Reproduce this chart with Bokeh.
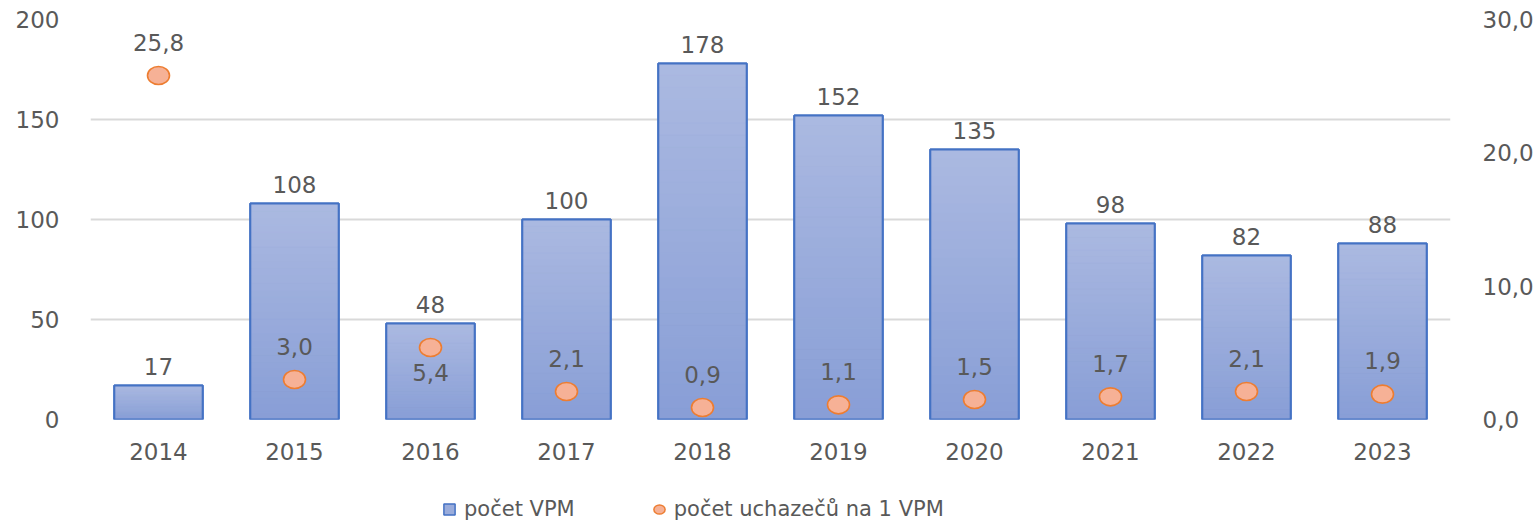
from bokeh.plotting import figure
from bokeh.layouts import column
from bokeh.models import (ColumnDataSource, Range1d, LinearAxis, FixedTicker,
                          CustomJSTickFormatter, LabelSet, Legend, LegendItem)
from bokeh.core.properties import value
from bokeh.embed import file_html
from bokeh.resources import INLINE

# ---- data ----
years = ["2014", "2015", "2016", "2017", "2018", "2019", "2020", "2021", "2022", "2023"]
vpm = [17, 108, 48, 100, 178, 152, 135, 98, 82, 88]
ratio = [25.8, 3.0, 5.4, 2.1, 0.9, 1.1, 1.5, 1.7, 2.1, 1.9]
left_ticks = [0, 50, 100, 150, 200]
right_ticks = [0, 10, 20, 30]
ratio_label_below = ["2016"]

FONT = "DejaVu Sans"
TXT = "#595959"
TICK_SIZE = "23px"
LBL_SIZE = "23px"
LEG_SIZE = "21px"
BAR_FILL = "#9AACDB"
BAR_LINE = "#4472C4"
DOT_FILL = "#F6B196"
DOT_LINE = "#ED7D31"


def cz(v):
    return f"{v:.1f}".replace(".", ",")


src = ColumnDataSource(dict(year=years, vpm=vpm, ratio=ratio,
                            vpm_lbl=[str(v) for v in vpm],
                            ratio_lbl=[cz(v) for v in ratio]))
up_idx = [i for i, y in enumerate(years) if y not in ratio_label_below]
dn_idx = [i for i, y in enumerate(years) if y in ratio_label_below]
src_up = ColumnDataSource(dict(year=[years[i] for i in up_idx], ratio=[ratio[i] for i in up_idx],
                               ratio_lbl=[cz(ratio[i]) for i in up_idx]))
src_dn = ColumnDataSource(dict(year=[years[i] for i in dn_idx], ratio=[ratio[i] for i in dn_idx],
                               ratio_lbl=[cz(ratio[i]) for i in dn_idx]))

p = figure(x_range=years, y_range=Range1d(0, 200), width=1539, height=480,
           output_backend="svg", toolbar_location=None,
           min_border_left=90, min_border_right=89, min_border_top=19, min_border_bottom=61)
p.outline_line_color = None
p.background_fill_color = "white"
p.border_fill_color = "white"
p.extra_y_ranges = {"r": Range1d(0, 30)}

# ---- axes ----
p.yaxis.ticker = FixedTicker(ticks=left_ticks)
p.yaxis.axis_line_color = None
p.yaxis.major_tick_line_color = None
p.yaxis.minor_tick_line_color = None
p.yaxis.major_label_standoff = 25
p.yaxis.major_label_text_font = FONT
p.yaxis.major_label_text_font_size = TICK_SIZE
p.yaxis.major_label_text_color = TXT

rax = LinearAxis(y_range_name="r", ticker=FixedTicker(ticks=right_ticks),
                 formatter=CustomJSTickFormatter(code="return tick.toFixed(1).replace('.', ',');"))
rax.axis_line_color = None
rax.major_tick_line_color = None
rax.minor_tick_line_color = None
rax.major_label_standoff = 26
rax.major_label_text_font = FONT
rax.major_label_text_font_size = TICK_SIZE
rax.major_label_text_color = TXT
p.add_layout(rax, "right")

p.xaxis.axis_line_color = None
p.xaxis.major_tick_line_color = None
p.xaxis.minor_tick_line_color = None
p.xaxis.major_label_standoff = 17
p.xaxis.major_label_text_font = FONT
p.xaxis.major_label_text_font_size = TICK_SIZE
p.xaxis.major_label_text_color = TXT

p.xgrid.grid_line_color = None
p.ygrid.grid_line_color = "#D9D9D9"
p.ygrid.grid_line_width = 2

# ---- bars (gradient built from slices of each bar) ----
BW = 0.65
p.vbar(x="year", top="vpm", width=BW, source=src,
       fill_color=BAR_FILL, line_color=BAR_LINE, line_width=2)

N = 30
top_rgb = (171, 185, 225)
bot_rgb = (136, 158, 214)
sx, sb, st, sc = [], [], [], []
for y, v in zip(years, vpm):
    for k in range(N):
        t = (k + 0.5) / N
        r = round(bot_rgb[0] + (top_rgb[0] - bot_rgb[0]) * t)
        g = round(bot_rgb[1] + (top_rgb[1] - bot_rgb[1]) * t)
        b = round(bot_rgb[2] + (top_rgb[2] - bot_rgb[2]) * t)
        sx.append(y)
        sb.append(v * k / N)
        st.append(v * (k + 1) / N)
        sc.append("#%02x%02x%02x" % (r, g, b))
p.vbar(x=sx, bottom=sb, top=st, width=BW, fill_color=sc, line_color=sc, line_width=0.6)
p.vbar(x="year", top="vpm", width=BW, source=src,
       fill_color=None, line_color=BAR_LINE, line_width=2)

# ---- dots ----
p.ellipse(x="year", y="ratio", width=22, height=18, width_units="screen", height_units="screen",
          y_range_name="r", source=src, fill_color=DOT_FILL, line_color=DOT_LINE, line_width=1.6)

# ---- labels ----
lbl_kw = dict(text_align="center", text_baseline="alphabetic",
              text_font=value(FONT), text_font_size=LBL_SIZE, text_color=TXT)
p.add_layout(LabelSet(x="year", y="vpm", text="vpm_lbl", source=src, y_offset=11, **lbl_kw))
p.add_layout(LabelSet(x="year", y="ratio", text="ratio_lbl", source=src_up, y_range_name="r",
                      y_offset=25, **lbl_kw))
p.add_layout(LabelSet(x="year", y="ratio", text="ratio_lbl", source=src_dn, y_range_name="r",
                      y_offset=-33, **lbl_kw))

# ---- legend strip (same series, not shown in this strip; only their legend entries) ----
lf = figure(x_range=years, y_range=Range1d(1000, 1001), width=1539, height=44,
            output_backend="svg", toolbar_location=None,
            x_axis_type=None, y_axis_type=None,
            min_border_left=0, min_border_right=0, min_border_top=0, min_border_bottom=0)
lf.outline_line_color = None
lf.xgrid.grid_line_color = None
lf.ygrid.grid_line_color = None
lf.extra_y_ranges = {"r": Range1d(1000, 1001)}
lbar = lf.vbar(x="year", top="vpm", width=BW, source=src,
               fill_color=BAR_FILL, line_color=BAR_LINE, line_width=1.5, visible=False)
ldot = lf.ellipse(x="year", y="ratio", width=22, height=18, width_units="screen", height_units="screen",
                  y_range_name="r", source=src, fill_color=DOT_FILL, line_color=DOT_LINE,
                  line_width=1.5)

lg = Legend(items=[LegendItem(label="počet VPM", renderers=[lbar]),
                   LegendItem(label="počet uchazečů na 1 VPM", renderers=[ldot])],
            location=(352, 3), orientation="horizontal", padding=0, margin=0, spacing=77,
            glyph_width=14, glyph_height=14, label_standoff=8,
            border_line_color=None, background_fill_alpha=0)
lg.label_text_font = FONT
lg.label_text_font_size = LEG_SIZE
lg.label_text_color = TXT
lf.add_layout(lg)

open("out.html", "w").write(file_html(column(p, lf, spacing=0), INLINE))
